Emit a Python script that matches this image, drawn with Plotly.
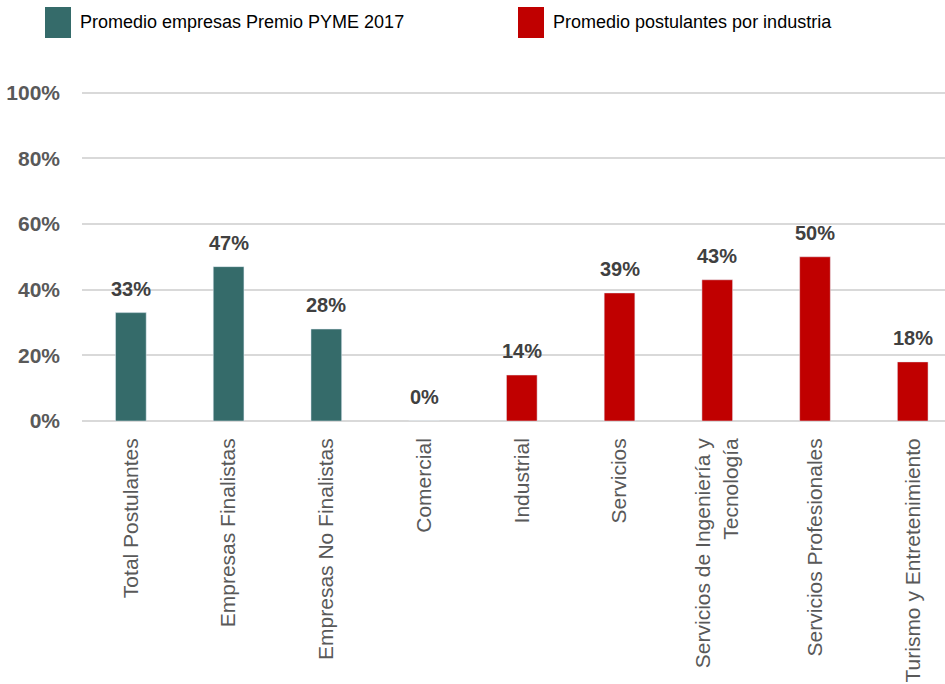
import plotly.graph_objects as go

# Average of Premio PYME 2017 companies
premio_cats = ["Total Postulantes", "Empresas Finalistas", "Empresas No Finalistas"]
premio_vals = [0.33, 0.47, 0.28]

# Average of applicants by industry
industria_cats = [
    "Comercial",
    "Industrial",
    "Servicios",
    "Servicios de Ingeniería y<br>Tecnología",
    "Servicios Profesionales",
    "Turismo y Entretenimiento",
]
industria_vals = [0.0, 0.14, 0.39, 0.43, 0.50, 0.18]

premio_name = "Promedio empresas Premio PYME 2017"
industria_name = "Promedio postulantes por industria"

TEAL = "#356B6A"
RED = "#C00000"
FONT = "Liberation Sans, Arial, sans-serif"

W, H = 945, 684
Y_TOP = 1.02
L, R, T, B = 82, 0, 86, 263
BAR_W = 0.314

fig = go.Figure()
fig.add_trace(go.Bar(x=premio_cats, y=premio_vals, name=premio_name,
                     marker_color=TEAL, width=BAR_W, showlegend=False))
fig.add_trace(go.Bar(x=industria_cats, y=industria_vals, name=industria_name,
                     marker_color=RED, width=BAR_W, showlegend=False))

# value labels above each bar
for cats, vals in ((premio_cats, premio_vals), (industria_cats, industria_vals)):
    for c, v in zip(cats, vals):
        fig.add_annotation(x=c, y=v, text=f"{round(v * 100):d}%", showarrow=False,
                           yanchor="bottom", yshift=11,
                           font=dict(family=FONT, size=20, color="#404040", weight="bold"))

# legend drawn as colour boxes + text along the top
plot_w = W - L - R
plot_h = H - T - B


def px_x(px):
    return (px - L) / plot_w


def px_y(py):
    return (H - B - py) / plot_h


for (x0, color, label) in ((45, TEAL, premio_name), (518, RED, industria_name)):
    fig.add_shape(type="rect", xref="paper", yref="paper",
                  x0=px_x(x0), x1=px_x(x0 + 26), y0=px_y(38), y1=px_y(7),
                  fillcolor=color, line_width=0)
    fig.add_annotation(xref="paper", yref="paper", x=px_x(x0 + 33), y=px_y(22),
                       text=label, showarrow=False, xanchor="left", yanchor="middle",
                       font=dict(family=FONT, size=18, color="#000000"))

n_cats = len(premio_cats) + len(industria_cats)
fig.update_layout(
    width=W, height=H,
    margin=dict(l=L, r=R, t=T, b=B, autoexpand=False),
    paper_bgcolor="white", plot_bgcolor="white",
    barmode="overlay",
    xaxis=dict(
        type="category",
        range=[-0.5, n_cats - 0.5 - 16.6 / 97.85],
        tickangle=-90,
        tickfont=dict(family=FONT, size=21, color="#595959"),
        showgrid=False, showline=False, zeroline=False,
        ticks="", ticklabelstandoff=12, automargin=False,
    ),
    yaxis=dict(
        range=[0, Y_TOP],
        tickvals=[0, 0.2, 0.4, 0.6, 0.8, 1.0],
        tickformat=".0%",
        tickfont=dict(family=FONT, size=21, color="#595959", weight="bold"),
        showgrid=True, gridcolor="#D9D9D9", gridwidth=2,
        zeroline=True, zerolinecolor="#D9D9D9", zerolinewidth=2,
        showline=False, ticks="", ticklabelstandoff=21, automargin=False,
    ),
)

fig.write_html("out.html")
